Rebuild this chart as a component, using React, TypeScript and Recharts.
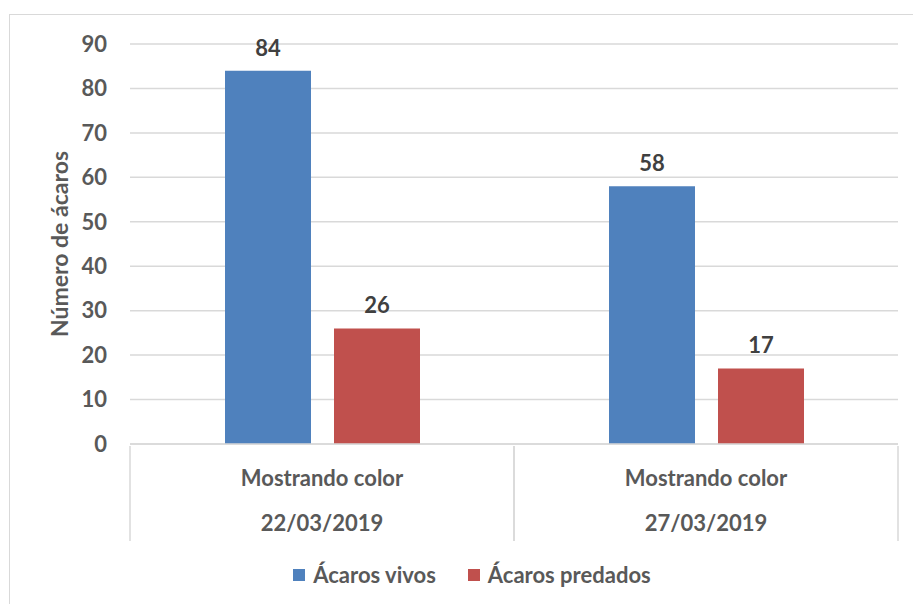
import React from "react";
import { BarChart, Bar, XAxis, YAxis, CartesianGrid, Legend, LabelList, Label } from "recharts";

const groupLabels = ["Mostrando color", "Mostrando color"];
const dates = ["22/03/2019", "27/03/2019"];
const acarosVivos = [84, 58];
const acarosPredados = [26, 17];
const yTicks = [0, 10, 20, 30, 40, 50, 60, 70, 80, 90];

const data = dates.map((d, i) => ({
  date: d,
  group: groupLabels[i],
  vivos: acarosVivos[i],
  predados: acarosPredados[i],
}));

const FONT = "Lato, 'Liberation Sans', sans-serif";
const BLUE = "#4F81BD";
const RED = "#C0504D";
const GRID = "#d9d9d9";
const TXT = "#595959";
const FS = 22;

const CatTick = (props: any) => {
  const { x, y, payload, width } = props;
  const bw = width / data.length;
  const row = data[payload.index] || data.find((d) => d.date === payload.value);
  return (
    <g>
      <line x1={x - bw / 2} x2={x - bw / 2} y1={y} y2={y + 95} stroke={GRID} strokeWidth={1.5} />
      <line x1={x + bw / 2} x2={x + bw / 2} y1={y} y2={y + 95} stroke={GRID} strokeWidth={1.5} />
      <text x={x} y={y + 40} textAnchor="middle" fill={TXT} fontFamily={FONT} fontWeight={700} fontSize={FS}>
        {row ? row.group : ""}
      </text>
      <text x={x} y={y + 85} textAnchor="middle" fill={TXT} fontFamily={FONT} fontWeight={700} fontSize={FS}>
        {payload.value}
      </text>
    </g>
  );
};

const LegendContent = () => {
  const items = [
    { name: "Ácaros vivos", color: BLUE },
    { name: "Ácaros predados", color: RED },
  ];
  return (
    <div style={{ display: "flex", justifyContent: "center", alignItems: "center", height: 24 }}>
      {items.map((it, i) => (
        <div key={i} style={{ display: "flex", alignItems: "center", marginLeft: i ? 32 : 0 }}>
          <div style={{ width: 12, height: 12, background: it.color, marginRight: 8 }} />
          <span style={{ fontFamily: FONT, fontWeight: 700, fontSize: FS, color: TXT, lineHeight: "24px" }}>{it.name}</span>
        </div>
      ))}
    </div>
  );
};

export default function App() {
  return (
    <div style={{ position: "absolute", left: 0, top: 0, width: 913, height: 604, overflow: "hidden", background: "#fff" }}>
      <div style={{ position: "absolute", left: 9, top: 14, width: 920, height: 620, border: "1.5px solid #d9d9d9", boxSizing: "border-box" }} />
      <div style={{ position: "absolute", left: 0, top: 0 }}>
        <BarChart
          width={913}
          height={604}
          data={data}
          margin={{ top: 44, right: 15, left: 0, bottom: 17 }}
          barCategoryGap="24.6%"
          barGap={23}
        >
          <CartesianGrid vertical={false} stroke={GRID} strokeWidth={1.5} />
          <XAxis
            dataKey="date"
            height={119}
            axisLine={{ stroke: GRID, strokeWidth: 1.5 }}
            tickLine={false}
            tickSize={0}
            tick={<CatTick />}
            interval={0}
          />
          <YAxis
            width={130}
            domain={[0, 90]}
            ticks={yTicks}
            axisLine={false}
            tickLine={false}
            tickSize={0}
            tickMargin={23}
            tick={{ fill: TXT, fontFamily: FONT, fontWeight: 700, fontSize: FS }}
          >
            <Label
              value="Número de ácaros"
              angle={-90}
              position="center"
              dx={-5}
              style={{ fill: TXT, fontFamily: FONT, fontWeight: 700, fontSize: 23, textAnchor: "middle" }}
            />
          </YAxis>
          <Legend verticalAlign="bottom" height={24} content={<LegendContent />} wrapperStyle={{ left: 0, width: 944 }} />
          <Bar dataKey="vivos" name="Ácaros vivos" fill={BLUE} barSize={86} isAnimationActive={false}>
            <LabelList dataKey="vivos" position="top" offset={15} style={{ fill: "#404040", fontFamily: FONT, fontWeight: 700, fontSize: FS }} />
          </Bar>
          <Bar dataKey="predados" name="Ácaros predados" fill={RED} barSize={86} isAnimationActive={false}>
            <LabelList dataKey="predados" position="top" offset={15} style={{ fill: "#404040", fontFamily: FONT, fontWeight: 700, fontSize: FS }} />
          </Bar>
        </BarChart>
      </div>
    </div>
  );
}
